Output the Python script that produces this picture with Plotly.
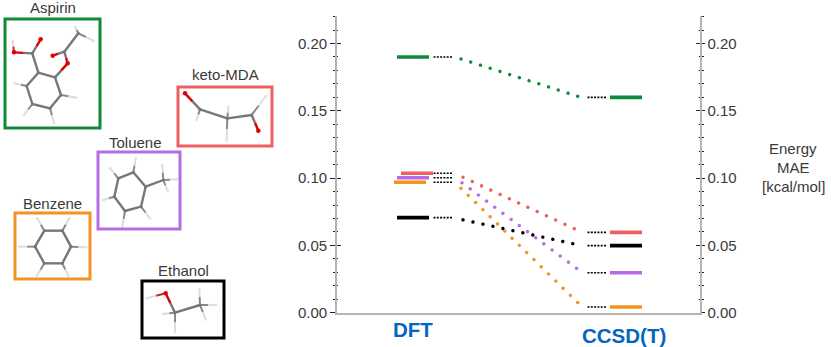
import plotly.graph_objects as go

# ---- chart data ----
methods = ["DFT", "CCSD(T)"]
molecules = ["Aspirin", "keto-MDA", "Toluene", "Benzene", "Ethanol"]
dft_mae = [0.190, 0.1036, 0.1003, 0.0969, 0.0706]
ccsd_mae = [0.160, 0.0597, 0.0297, 0.0042, 0.0498]
colors = ["#0E8A3A", "#EE6060", "#B56CE6", "#F39422", "#000000"]
bar_shift = [0, 4, 0, -3, 0]
# dotted connector ends
link_start = [0.1885, 0.1006, 0.0965, 0.0925, 0.0690]
link_end = [0.1600, 0.0620, 0.0325, 0.0070, 0.0510]
link_x_start = [461, 463, 462, 461, 463]
link_x_end = [581, 575.5, 577.5, 578.5, 574.5]
y_ticks = [0.00, 0.05, 0.10, 0.15, 0.20]

# ---- molecule drawings (in pixels x3; y offset per group) ----
mol_atoms = {
    "Aspirin": dict(
        dy=0,
        C=[(115,218),(165,232),(183,285),(150,325),(97,312),(80,258),(97,160),(193,155),(235,100)],
        O=[(122,118),(42,157),(203,190),(158,167)],
        H=[(38,122),(225,80),(280,122),(45,250),(72,345),(162,368),(228,293)],
        CC=[(0,1),(1,2),(2,3),(3,4),(4,5),(5,0),(0,6),(7,8)],
        CO=[(6,0),(6,1),(1,2),(7,2),(7,3)],
        CH=[(8,1),(8,2),(5,3),(4,4),(3,5),(2,6)],
        OH=[(1,0)],
    ),
    "keto-MDA": dict(
        dy=0,
        C=[(600,328),(682,355),(755,345)],
        O=[(555,280),(775,392)],
        H=[(590,360),(685,320),(680,420),(798,288)],
        CC=[(0,1),(1,2)],
        CO=[(0,0),(2,1)],
        CH=[(0,0),(1,1),(1,2),(2,3)],
        OH=[],
    ),
    "Toluene": dict(
        dy=130,
        C=[(400,127),(437,170),(423,230),(375,243),(343,200),(355,145),(490,150)],
        O=[],
        H=[(487,105),(530,148),(503,183),(407,85),(330,115),(310,210),(367,290),(450,265)],
        CC=[(0,1),(1,2),(2,3),(3,4),(4,5),(5,0),(1,6)],
        CO=[],
        CH=[(6,0),(6,1),(6,2),(0,3),(5,4),(4,5),(3,6),(2,7)],
        OH=[],
    ),
    "Benzene": dict(
        dy=130,
        C=[(133,302),(187,302),(213,350),(187,400),(133,400),(105,350)],
        O=[],
        H=[(112,265),(208,265),(258,352),(205,438),(110,438),(58,350)],
        CC=[(0,1),(1,2),(2,3),(3,4),(4,5),(5,0)],
        CO=[],
        CH=[(0,0),(1,1),(2,2),(3,3),(4,4),(5,5)],
        OH=[],
    ),
    "Ethanol": dict(
        dy=130,
        C=[(525,548),(600,525)],
        O=[(497,490)],
        H=[(440,505),(490,552),(525,607),(598,477),(648,525),(617,568)],
        CC=[(0,1)],
        CO=[(0,0)],
        CH=[(0,1),(0,2),(1,3),(1,4),(1,5)],
        OH=[(0,0)],
    ),
}
boxes = {
    "Aspirin": (5, 19, 100, 128),
    "keto-MDA": (178, 87, 272, 146),
    "Toluene": (98, 152, 180, 229),
    "Benzene": (15, 213, 90, 279),
    "Ethanol": (142, 281, 224, 338),
}
label_pos = {
    "Aspirin": (53, 7),
    "keto-MDA": (225, 74),
    "Toluene": (135, 142),
    "Benzene": (52, 203),
    "Ethanol": (183, 270),
}

W, H = 831, 347
FONT = "Liberation Sans"
TXT = "#3a3a3a"
X0, X1 = 336.7, 700
Y_BOTTOM, Y_TOP = 312.7, 16
YMAX = (Y_BOTTOM - Y_TOP) / 1346

fig = go.Figure()


def line(x, y, color, width, dash="solid", name=""):
    fig.add_trace(go.Scatter(x=x, y=y, mode="lines", hoverinfo="skip", showlegend=False,
                             name=name, line=dict(color=color, width=width, dash=dash)))


# energy levels
for i, m in enumerate(molecules):
    s = bar_shift[i]
    c = colors[i]
    line([397 + s, 429 + s], [dft_mae[i]] * 2, c, 3.6)
    line([610, 642], [ccsd_mae[i]] * 2, c, 3.6)
    line([433.5, 453], [dft_mae[i]] * 2, "#000000", 1.6, "2px,1.3px")
    line([587.5, 607], [ccsd_mae[i]] * 2, "#000000", 1.6, "2px,1.3px")
    line([link_x_start[i], link_x_end[i]], [link_start[i], link_end[i]], c, 3.4, "0.01px,10.2px",
         name="link")

# keep the overlay axes alive (an axis with no trace is dropped)
for ya in ("y2", "y3", "y4"):
    fig.add_trace(go.Scatter(x=[X0], y=[0], yaxis=ya, mode="markers", hoverinfo="skip", showlegend=False,
                             marker=dict(opacity=0, size=1)))


def mline(x, y, color, width):
    fig.add_trace(go.Scatter(x=x, y=y, xaxis="x2", yaxis="y5", mode="lines", hoverinfo="skip",
                             showlegend=False, line=dict(color=color, width=width)))


def mdots(x, y, color, size):
    fig.add_trace(go.Scatter(x=x, y=y, xaxis="x2", yaxis="y5", mode="markers", hoverinfo="skip",
                             showlegend=False, marker=dict(color=color, size=size, line=dict(width=0))))


for name, g in mol_atoms.items():
    P = lambda p: (p[0] / 3, g["dy"] + p[1] / 3)
    C = [P(p) for p in g["C"]]
    O = [P(p) for p in g["O"]]
    Hs = [P(p) for p in g["H"]]

    def half(a, b, ca, cb, w):
        mid = ((a[0] + b[0]) / 2, (a[1] + b[1]) / 2)
        mline([a[0], mid[0]], [a[1], mid[1]], ca, w)
        mline([mid[0], b[0]], [mid[1], b[1]], cb, w)

    for a, b in g["CH"]:
        half(C[a], Hs[b], "#8a8a8a", "#dcdcdc", 2)
    for a, b in g["OH"]:
        half(O[a], Hs[b], "#d02020", "#dcdcdc", 2)
    for a, b in g["CC"]:
        mline([C[a][0], C[b][0]], [C[a][1], C[b][1]], "#777777", 2.4)
    for a, b in g["CO"]:
        half(C[a], O[b], "#777777", "#d80000", 2.4)
    mdots([p[0] for p in C], [p[1] for p in C], "#777777", 3)
    if O:
        mdots([p[0] for p in O], [p[1] for p in O], "#e00000", 4.5)
    mdots([p[0] for p in Hs], [p[1] for p in Hs], "#e4e4e4", 3)

shapes = []
for i, m in enumerate(molecules):
    x0, y0, x1, y1 = boxes[m]
    shapes.append(dict(type="rect", xref="x2", yref="y5", x0=x0, y0=y0, x1=x1, y1=y1,
                       line=dict(color=colors[i], width=3), fillcolor="rgba(0,0,0,0)"))

ann = []
for m in molecules:
    ann.append(dict(x=label_pos[m][0], y=label_pos[m][1], xref="x2", yref="y5", text=m,
                    showarrow=False, font=dict(family=FONT, size=15, color=TXT)))
ann.append(dict(x=413, y=329, xref="x2", yref="y5", text=f"<b>{methods[0]}</b>", showarrow=False,
                font=dict(family=FONT, size=20.5, color="#0565C0")))
ann.append(dict(x=623.5, y=335, xref="x2", yref="y5", text=f"<b>{methods[1]}</b>", showarrow=False,
                font=dict(family=FONT, size=20.5, color="#0565C0")))
for txt, yy in zip(["Energy", "MAE", "[kcal/mol]"], [148, 167, 186]):
    ann.append(dict(x=793, y=yy, xref="x2", yref="y5", text=txt, showarrow=False,
                    font=dict(family=FONT, size=15, color=TXT)))

dom = [(H - Y_BOTTOM) / H, (H - Y_TOP) / H]
AX = "#b4b4b4"
TK = "#222222"


def yax(side, ticks, majlen, minlen, labels, overlay):
    d = dict(domain=dom, range=[0, YMAX], side=side, anchor="x", showgrid=False, zeroline=False,
             showline=True, linecolor=AX, linewidth=2, automargin=False,
             tickmode="array", tickvals=y_ticks, ticktext=[f"{v:.2f}" for v in y_ticks],
             ticks=ticks, ticklen=majlen, tickwidth=1.2, tickcolor=TK,
             showticklabels=labels, tickfont=dict(family=FONT, size=15, color=TXT),
             minor=dict(dtick=0.01, tick0=0, ticks=ticks, ticklen=minlen, tickwidth=1.2, tickcolor=TK))
    if overlay:
        d["overlaying"] = "y"
    return d


fig.update_layout(
    width=W, height=H, autosize=False, margin=dict(l=0, r=0, t=0, b=0, pad=0, autoexpand=False),
    paper_bgcolor="white", plot_bgcolor="rgba(0,0,0,0)", showlegend=False,
    xaxis=dict(domain=[X0 / W, X1 / W], range=[X0, X1], anchor="y", showgrid=False, zeroline=False,
               automargin=False,
               showline=True, linecolor=AX, linewidth=2, ticks="", showticklabels=False),
    xaxis2=dict(domain=[0, 1], range=[0, W], anchor="y5", visible=False),
    yaxis=yax("left", "outside", 4.5, 2, True, False),
    yaxis2=yax("right", "outside", 2.5, 1.5, True, True),
    yaxis3=yax("left", "inside", 4, 1.5, False, True),
    yaxis4=yax("right", "inside", 4, 1.5, False, True),
    yaxis5=dict(domain=[0, 1], range=[H, 0], anchor="x2", visible=False),
    shapes=shapes, annotations=ann,
)

fig.write_html(
    "out.html",
    config={"displayModeBar": False},
    post_script="""
document.body.style.margin='0';
document.querySelectorAll('.scatterlayer .js-line').forEach(function(p){
  var d=p.style.strokeDasharray||'';
  if(d.indexOf('10.2')>=0){p.style.strokeLinecap='round';}
});
""",
)
